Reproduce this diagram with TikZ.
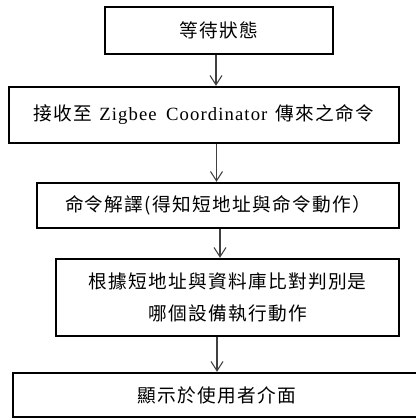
\documentclass[tikz,border=0pt]{standalone}
\usepackage{fontspec}
\newfontfamily\cjk[LetterSpace=7]{Noto Sans CJK TC}
\newfontfamily\lat[LetterSpace=6]{Liberation Serif}
\usetikzlibrary{arrows.meta}
\begin{document}
\begin{tikzpicture}[x=0.75pt,y=-0.75pt,
  box/.style={draw=black, line width=1.8pt, fill=white, inner sep=0pt,
    font=\cjk\fontsize{14}{24}\selectfont, align=center},
  arr/.style={draw=black!75, line width=0.8pt, -{Straight Barb[length=7pt,width=9pt]}}]
\useasboundingbox (0,0) rectangle (416,419);
\node[box, minimum width=171pt, minimum height=35.25pt] (b1) at (219,30.5) {等待狀態};
\node[box, minimum width=292.5pt, minimum height=42pt] (b2) at (204,115)
  {接收至\hspace{5pt}{\lat Zigbee}\hspace{7pt}{\lat Coordinator}\hspace{6pt}傳來之命令};
\node[box, minimum width=271.5pt, minimum height=33.75pt] (b3) at (218,205.5) {命令解譯(得知短地址與命令動作）};
\node[box, minimum width=257.25pt, minimum height=57.75pt] (b4) at (227.5,297.5) {根據短地址與資料庫比對判別是\\哪個設備執行動作};
\node[box, minimum width=306pt, minimum height=33pt] (b5) at (217,395) {顯示於使用者介面};
\coordinate (ax1) at (216,0);
\coordinate (ax2) at (216.5,0);
\coordinate (ax3) at (220,0);
\coordinate (ax4) at (217,0);
\draw[arr] (b1.south -| ax1) -- (b2.north -| ax1);
\draw[arr] (b2.south -| ax2) -- (b3.north -| ax2);
\draw[arr] (b3.south -| ax3) -- (b4.north -| ax3);
\draw[arr] (b4.south -| ax4) -- (b5.north -| ax4);
\end{tikzpicture}
\end{document}
